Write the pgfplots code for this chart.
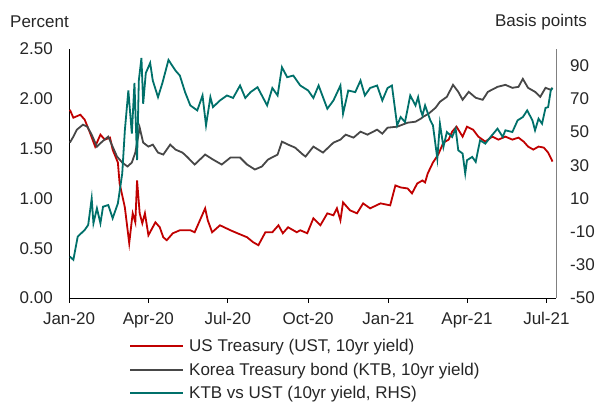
\documentclass[border=0pt]{standalone}
\usepackage{fontspec}
\setmainfont{Liberation Sans}
\usepackage{pgfplots}
\usepackage{pgfplotstable}
\pgfplotsset{compat=1.18}

\definecolor{ustred}{HTML}{C00000}
\definecolor{ktbgray}{HTML}{474747}
\definecolor{sprteal}{HTML}{00706A}
\definecolor{txt}{HTML}{262626}

% x = days since 1 Jan 2020
\pgfplotstableread{
day val
1 1.89
5 1.81
13 1.84
18 1.79
24 1.66
30 1.52
36 1.64
41 1.59
47 1.61
50 1.49
56 1.36
58 1.15
64 0.91
69 0.55
72 0.78
73 0.85
76 0.76
78 1.18
81 0.85
84 0.75
87 0.85
91 0.63
99 0.76
104 0.71
108 0.61
112 0.58
119 0.65
127 0.68
139 0.68
144 0.66
156 0.90
159 0.78
164 0.66
173 0.73
185 0.68
193 0.65
204 0.61
211 0.56
217 0.53
225 0.66
233 0.66
240 0.73
245 0.65
251 0.71
261 0.66
265 0.68
273 0.65
280 0.80
288 0.73
296 0.85
303 0.83
307 0.90
311 0.78
314 0.96
322 0.88
330 0.85
337 0.95
345 0.90
357 0.95
368 0.93
374 1.13
380 1.11
388 1.10
393 1.05
399 1.15
405 1.18
408 1.16
411 1.25
417 1.36
423 1.44
429 1.56
435 1.59
439 1.67
444 1.72
451 1.62
456 1.72
463 1.69
469 1.62
477 1.57
485 1.62
492 1.59
500 1.62
508 1.59
515 1.61
521 1.57
526 1.52
532 1.49
538 1.52
544 1.51
549 1.46
554 1.37
}\ust

\pgfplotstableread{
day val
1 1.56
5 1.62
9 1.69
16 1.74
21 1.72
26 1.64
32 1.52
38 1.57
45 1.62
50 1.52
55 1.42
61 1.36
67 1.32
72 1.36
76 1.46
81 1.71
85 1.56
91 1.52
96 1.54
102 1.46
108 1.44
116 1.54
122 1.49
130 1.46
135 1.42
144 1.34
156 1.44
165 1.39
175 1.34
185 1.41
196 1.41
204 1.34
213 1.29
221 1.32
228 1.39
239 1.44
244 1.57
251 1.54
259 1.51
268 1.44
271 1.42
280 1.52
291 1.46
303 1.56
311 1.59
317 1.64
326 1.61
334 1.67
342 1.64
353 1.69
359 1.65
365 1.71
376 1.72
388 1.76
397 1.77
403 1.80
406 1.82
412 1.85
420 1.91
425 1.97
433 2.02
440 2.14
446 2.07
451 1.99
458 2.07
466 2.01
474 1.99
480 2.07
491 2.12
500 2.14
508 2.11
515 2.12
520 2.20
526 2.11
534 2.07
540 2.02
546 2.11
552 2.09
554 2.11
}\ktb

\pgfplotstableread{
day val
1 -25
5 -27
10 -13
18 -9
22 -6
26 10
28 -5
32 4
36 -5
39 5
45 6
50 -2
56 7
61 25
64 51
68 75
72 49
75 79.5
78 33
80 81
83 94.6
85 67
88 85.5
93 91.6
96 81
102 71
107 79.5
114 93.4
122 87
127 84
133 74
139 66
147 63
153 72
157 54
162 71
165 65
173 69
181 72
188 70.5
196 78
202 70.5
208 74
216 77
221 72
227 66
233 76.5
239 72
244 89
250 83
257 84
265 78
274 75
280 70.5
286 78
296 64
303 69
311 78
314 61
320 75
328 74
334 81
339 72
345 76.5
353 78
359 69
365 76.5
370 78
376 54
380 59
385 56
391 72
397 66
400 71
403 63
405 60
408 66
414 57
417 54
422 34
425 55
429 41
433 50
439 47
443 52
446 39
451 37
454 25
456 33
462 35
466 32
471 45
477 43
483 47
491 52
497 47
500 51
508 50
514 57
520 59
525 63
531 57
534 51
538 58
542 55
546 64.5
549 65
552 75
554 76.5
}\spread

\pgfplotsset{
  base/.style={
    width=487pt, height=249pt, scale only axis,
    at={(69pt,105pt)}, anchor=south west,
    xmin=0, xmax=558,
    tick align=outside, major tick length=5pt,
    ytick style={draw=none},
    /pgf/number format/assume math mode=true,
    ticklabel style={text=txt},
  },
}
\tikzset{
  ustline/.style={ustred, line width=1.8pt},
  ktbline/.style={ktbgray, line width=1.8pt},
  sprline/.style={sprteal, line width=1.8pt},
}

\begin{document}
\begin{tikzpicture}[x=1pt, y=1pt, font=\fontsize{17}{20}\selectfont]
\useasboundingbox (0,0) rectangle (595,403);

\begin{axis}[base,
    axis x line*=bottom, axis y line*=left,
    axis line style={black, line width=0.9pt},
    ymin=0, ymax=2.5,
    ytick={0,0.5,1,1.5,2,2.5},
    yticklabel style={/pgf/number format/fixed, /pgf/number format/fixed zerofill,
      /pgf/number format/precision=2, inner sep=0pt, xshift=-11pt},
    xtick={0,91,182,274,366,456,547},
    xticklabels={Jan-20,Apr-20,Jul-20,Oct-20,Jan-21,Apr-21,Jul-21},
    xticklabel style={inner sep=0pt, yshift=-9pt},
    xtick style={black, line width=0.9pt},
  ]
  \addplot[ustline] table[x=day, y=val] {\ust};
  \addplot[ktbline] table[x=day, y=val] {\ktb};
\end{axis}

\begin{axis}[base,
    axis x line=none, axis y line*=right,
    axis line style={gray, line width=0.9pt},
    ymin=-50, ymax=100,
    ytick={-50,-30,-10,10,30,50,70,90},
    yticklabel style={inner sep=0pt, xshift=9pt},
  ]
  \addplot[sprline] table[x=day, y=val] {\spread};
\end{axis}

% axis titles
\node[anchor=west, text=txt, inner sep=0pt] at (10,381) {Percent};
\node[anchor=east, text=txt, inner sep=0pt] at (587,381) {Basis points};

% legend
\draw[ustline] (130,57) -- (183,57);
\node[anchor=base west, text=txt, inner sep=0pt] at (189,51) {US Treasury (UST, 10yr yield)};
\draw[ktbline] (130,33) -- (183,33);
\node[anchor=base west, text=txt, inner sep=0pt] at (189,27) {Korea Treasury bond (KTB, 10yr yield)};
\draw[sprline] (130,10) -- (183,10);
\node[anchor=base west, text=txt, inner sep=0pt] at (189,4.5) {KTB vs UST (10yr yield, RHS)};
\end{tikzpicture}
\end{document}
